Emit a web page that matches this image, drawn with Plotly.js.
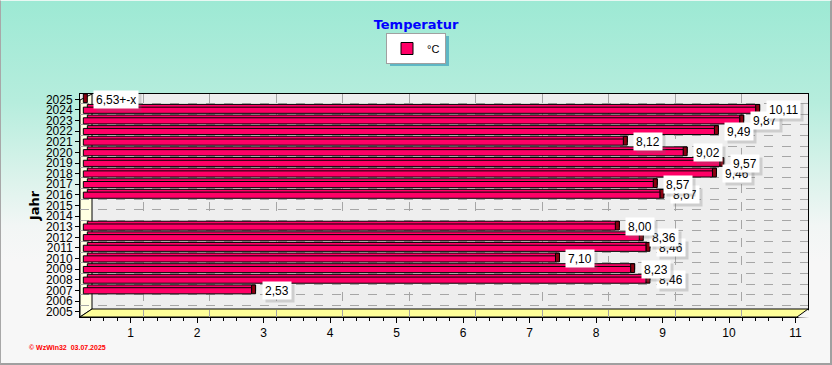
<!DOCTYPE html>
<html>
<head>
<meta charset="utf-8">
<script src="https://cdn.plot.ly/plotly-3.0.1.min.js"></script>
<style>
  html, body { margin: 0; padding: 0; }
  #wrap {
    position: relative; width: 829px; height: 362px;
    border-left: 1px solid #A8A8A8; border-right: 2px solid #A0A0A0; border-bottom: 2px solid #A0A0A0; border-top: 1px solid #E8F8F3;
    background: linear-gradient(to bottom, #9DE9D4 0%, #B6EDDD 28%, #DDF3EC 50%, #F2F6F5 62%, #F7F7F7 72%, #F7F7F7 100%);
    overflow: hidden;
  }
  #chart { position: absolute; left: -1px; top: -1px; width: 832px; height: 365px; }
</style>
</head>
<body>
<div id="wrap"><div id="chart"></div></div>
<script>
// ---- data ----
const years  = [2005, 2006, 2007, 2008, 2009, 2010, 2011, 2012, 2013, 2014, 2015,
                2016, 2017, 2018, 2019, 2020, 2021, 2022, 2023, 2024, 2025];
const temps  = [null, null, 2.53, 8.46, 8.23, 7.10, 8.46, 8.36, 8.00, null, null,
                8.67, 8.57, 9.46, 9.57, 9.02, 8.12, 9.49, 9.87, 10.11, null];
const labels = ['', '', '2,53', '8,46', '8,23', '7,10', '8,46', '8,36', '8,00', '', '',
                '8,67', '8,57', '9,46', '9,57', '9,02', '8,12', '9,49', '9,87', '10,11', '6,53+-x'];
const xTicks = [1, 2, 3, 4, 5, 6, 7, 8, 9, 10, 11];
const seriesName = '°C';
const chartTitle = 'Temperatur';
const yTitle = 'Jahr';
const footer = '©\u00a0WzWin32\u00a0\u00a003.07.2025';

// ---- layout geometry helpers (plot area 80..808 x 94..317 px) ----
const L = 80, R = 808, T = 94, B = 317;
const px = x => (x - L) / (R - L);
const py = y => (B - y) / (B - T);

const font = 'Liberation Sans, Arial, sans-serif';
const DEPTH = 0.06;   // 3D depth of the bars, in axis units (style)
const pink = '#FF0066', capColor = '#8B0010';

const traces = [
  { // top face (3D depth, shifted up/right)
    type: 'bar', orientation: 'h', y: years, x: temps, base: DEPTH,
    width: 0.55, offset: -0.03,
    marker: { color: pink, line: { color: '#000', width: 1 } },
    showlegend: false, hoverinfo: 'skip'
  },
  { // end cap (side face) at the end of every labelled bar
    type: 'bar', orientation: 'h', y: years,
    x: labels.map(l => l ? DEPTH : null),
    base: temps.map(v => v == null ? 0 : v),
    width: 0.82, offset: -0.31,
    marker: { color: capColor, line: { color: '#000', width: 1 } },
    showlegend: false, hoverinfo: 'skip'
  },
  { // front face
    type: 'bar', orientation: 'h', y: years, x: temps, name: seriesName,
    width: 0.58, offset: -0.32,
    marker: { color: pink, line: { color: '#000', width: 1 } }
  },
  { type: 'scatter', x: [], y: [], xaxis: 'x2', yaxis: 'y', showlegend: false },
  { type: 'scatter', x: [], y: [], xaxis: 'x', yaxis: 'y2', showlegend: false }
];

const annotations = [];
years.forEach((yr, i) => {
  if (!labels[i]) return;
  const xv = temps[i] == null ? 0 : temps[i];
  annotations.push({
    x: xv, y: yr, xref: 'x', yref: 'y', xanchor: 'left', yanchor: 'middle',
    xshift: 13, yshift: -3, showarrow: false, text: labels[i],
    font: { family: font, size: 12, color: 'rgba(0,0,0,0)' },
    bgcolor: 'rgba(110,110,110,0.25)', borderpad: 2, height: 13
  });
  annotations.push({
    x: xv, y: yr, xref: 'x', yref: 'y', xanchor: 'left', yanchor: 'middle',
    xshift: 10, showarrow: false, text: labels[i],
    font: { family: font, size: 12, color: '#000' },
    bgcolor: '#FFFFFF', borderpad: 2, height: 13
  });
});
annotations.push({
  xref: 'paper', yref: 'paper', x: px(27), y: py(347), xanchor: 'left', yanchor: 'middle',
  showarrow: false, text: footer,
  font: { family: font, size: 7, color: '#FF0000', weight: 'bold' }
});

const shapes = [
  { // legend shadow
    type: 'rect', xref: 'paper', yref: 'paper', layer: 'below',
    x0: px(390), x1: px(449), y0: py(36), y1: py(66),
    fillcolor: 'rgba(70,165,190,0.75)', line: { width: 0 }
  },
  { // left wall
    type: 'path', xref: 'paper', yref: 'paper', layer: 'between',
    path: `M${px(80)},${py(317)} L${px(80)},${py(100)} L${px(92)},${py(94)} L${px(92)},${py(309)} Z`,
    fillcolor: '#FFFFE2', line: { color: '#000', width: 1 }
  },
  { // floor
    type: 'path', xref: 'paper', yref: 'paper', layer: 'between',
    path: `M${px(80)},${py(317)} L${px(92)},${py(309)} L${px(808)},${py(309)} L${px(797)},${py(317)} Z`,
    fillcolor: '#FFFF99', line: { color: '#000', width: 1 }
  },
  { // cut-off corner at floor right
    type: 'path', xref: 'paper', yref: 'paper', layer: 'above',
    path: `M${px(798)},${py(317.5)} L${px(809)},${py(310)} L${px(809.5)},${py(318)} Z`,
    fillcolor: '#F7F7F7', line: { width: 0 }
  }
];

const layout = {
  width: 832, height: 365,
  margin: { l: L, r: 832 - R, t: T, b: 365 - B },
  paper_bgcolor: 'rgba(0,0,0,0)',
  plot_bgcolor: '#EEEEEE',
  barmode: 'overlay',
  title: {
    text: chartTitle, xref: 'container', x: 0.5, y: 1 - 24 / 365, yanchor: 'middle',
    font: { family: 'DejaVu Sans, sans-serif', size: 13, color: '#0000FF', weight: 'bold' }
  },
  showlegend: true,
  legend: {
    x: px(416), xanchor: 'center', y: py(33), yanchor: 'top',
    bgcolor: '#FFFFFF', bordercolor: '#A0A0A0', borderwidth: 1,
    font: { family: font, size: 11, color: '#000' }, itemwidth: 30
  },
  xaxis: { // bar scale (grid lines only)
    range: [-0.05, 10.897], tickvals: xTicks.map(t => t - 0.1), showticklabels: false,
    ticks: '', showgrid: true, gridcolor: '#A6A6A6', griddash: 'dash', gridwidth: 1,
    zeroline: false, showline: false, fixedrange: true
  },
  xaxis2: { // front axis labels
    overlaying: 'x', anchor: 'y', side: 'bottom',
    range: [0.2406, 11.188], tickvals: xTicks, ticktext: xTicks.map(String),
    showgrid: false, zeroline: false, showline: true, linecolor: '#000', linewidth: 1, mirror: true,
    ticks: 'outside', ticklen: 5, tickcolor: '#000',
    minor: { dtick: 0.2, ticks: 'outside', ticklen: 3, tickcolor: '#000', showgrid: false },
    tickfont: { family: font, size: 12, color: '#000' }
  },
  yaxis: {
    range: [2004.5, 2025.5], tickvals: years, ticktext: years.map(String),
    showgrid: false, zeroline: false, showline: true, linecolor: '#000', linewidth: 1, mirror: true,
    ticks: 'outside', ticklen: 4, tickcolor: '#000',
    tickfont: { family: font, size: 12, color: '#000' },
    title: { text: yTitle, standoff: 3, font: { family: 'DejaVu Sans, sans-serif', size: 13, color: '#000', weight: 'bold' } }
  },
  yaxis2: {
    overlaying: 'y', anchor: 'x', range: [2004.5, 2025.5],
    tickvals: years.map(y => y + 0.6), showticklabels: false, ticks: '',
    showgrid: true, gridcolor: '#A6A6A6', griddash: 'dash', gridwidth: 1, zeroline: false, showline: false
  },
  annotations: annotations,
  shapes: shapes
};

Plotly.newPlot('chart', traces, layout, { displayModeBar: false, staticPlot: true });
</script>
</body>
</html>
